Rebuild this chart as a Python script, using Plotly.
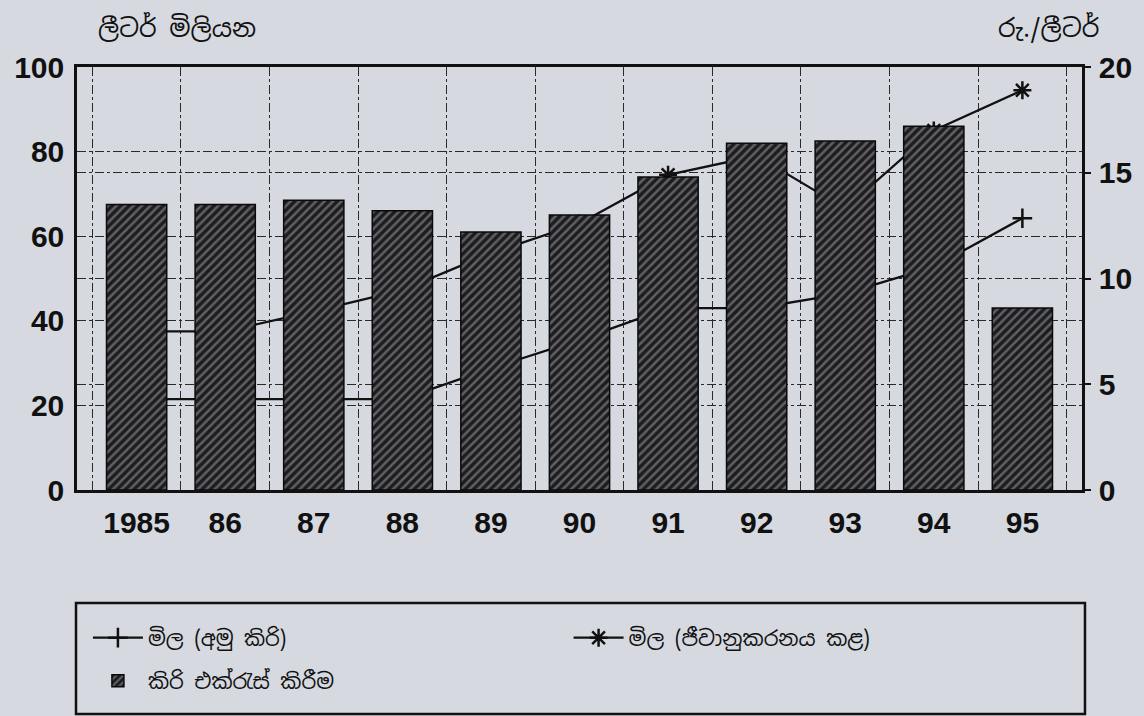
import plotly.graph_objects as go

years = ["1985", "86", "87", "88", "89", "90", "91", "92", "93", "94", "95"]
milk_collection = [67.5, 67.5, 68.5, 66, 61, 65, 74, 82, 82.5, 86, 43]
price_raw = [4.3, 4.3, 4.3, 4.3, 5.75, 7.1, 8.6, 8.6, 9.3, 10.55, 12.85]
price_sterilized = [7.5, 7.5, 8.45, 9.45, 11.2, 12.6, 14.9, 15.8, 13.3, 17.0, 18.9]

name_raw = "මිල (අමු කිරි)"
name_ster = "මිල (ජීවානුකරනය කළ)"
name_milk = "කිරි එක්රැස් කිරීම"
left_title = "ලීටර් මිලියන"
right_title = "රු./ලීටර්"

BG = "#d6d9e0"
INK = "#111111"
FONT = "Liberation Sans, Arial, sans-serif"
SFONT = "Noto Sans Sinhala, Iskoola Pota, Noto Sans, DejaVu Sans, sans-serif"

W, H = 1144, 716
ML, MR, MT, MB = 77, 55, 67, 226
pw = W - ML - MR
ph = H - MT - MB


def px_x(X):
    return (X - ML) / pw


def px_y(Y):
    return (H - MB - Y) / ph


fig = go.Figure()

fig.add_trace(go.Scatter(
    x=years, y=price_raw, name=name_raw, yaxis="y", mode="lines+markers",
    line=dict(color=INK, width=2.3),
    marker=dict(symbol="cross-thin", size=14, line=dict(color=INK, width=2.5), color=INK),
    legend="legend",
))
fig.add_trace(go.Scatter(
    x=years, y=price_sterilized, name=name_ster, yaxis="y", mode="lines+markers",
    line=dict(color=INK, width=2.3),
    marker=dict(symbol="asterisk", size=15, line=dict(color=INK, width=2.5), color=INK),
    legend="legend3",
))
fig.add_trace(go.Bar(
    x=years, y=milk_collection, name=name_milk, yaxis="y2", width=0.68,
    marker=dict(color="#1c1c1e", line=dict(color="#0a0a0a", width=1.5),
                pattern=dict(shape="/", fgcolor="#a4a4aa", bgcolor="#1c1c1e",
                             size=6, solidity=0.42)),
    legend="legend2",
))

grid = dict(showgrid=True, gridcolor="#2a2a2a", gridwidth=1.2, griddash="dashdot")
tickf = dict(family=FONT, size=30, color=INK, weight="bold")
legf = dict(family=SFONT, size=21, color=INK)
leg_common = dict(orientation="h", xanchor="left", yanchor="middle",
                  borderwidth=0, bgcolor="rgba(0,0,0,0)", font=legf, itemwidth=50)

fig.update_layout(
    width=W, height=H,
    paper_bgcolor=BG, plot_bgcolor=BG,
    margin=dict(l=ML, r=MR, t=MT, b=MB),
    showlegend=True,
    xaxis=dict(
        type="category", tickson="boundaries", ticks="", **grid,
        showline=True, linecolor=INK, linewidth=2.5, mirror=True,
        tickfont=tickf, ticklabelstandoff=4,
    ),
    yaxis=dict(
        side="right", range=[0, 20], dtick=5, **grid,
        showline=True, linecolor=INK, linewidth=2.5,
        ticks="outside", ticklen=6, tickcolor=INK, tickwidth=2,
        tickfont=tickf, zeroline=False, ticklabelstandoff=2,
    ),
    yaxis2=dict(
        overlaying="y", side="left", range=[0, 100], dtick=20, **grid,
        showline=True, linecolor=INK, linewidth=2.5,
        tickfont=tickf, zeroline=False, ticklabelstandoff=4,
    ),
    legend=dict(x=px_x(88), y=px_y(638), **leg_common),
    legend3=dict(x=px_x(572), y=px_y(638), **leg_common),
    legend2=dict(x=px_x(88), y=px_y(681), **leg_common),
    shapes=[
        dict(type="rect", xref="paper", yref="paper",
             x0=px_x(76), x1=px_x(1092), y0=px_y(603), y1=px_y(714),
             line=dict(color=INK, width=2.5), fillcolor="rgba(0,0,0,0)"),
    ],
    annotations=[
        dict(text=left_title, x=px_x(96), y=px_y(27), xref="paper", yref="paper",
             xanchor="left", yanchor="middle", showarrow=False,
             font=dict(family=SFONT, size=25, color=INK)),
        dict(text=right_title, x=px_x(1002), y=px_y(27), xref="paper", yref="paper",
             xanchor="left", yanchor="middle", showarrow=False,
             font=dict(family=SFONT, size=25, color=INK)),
    ],
)

fig.write_html(
    "out.html",
    config={"displayModeBar": False},
    post_script="document.body.style.margin='0';document.body.style.background='%s';" % BG,
)
